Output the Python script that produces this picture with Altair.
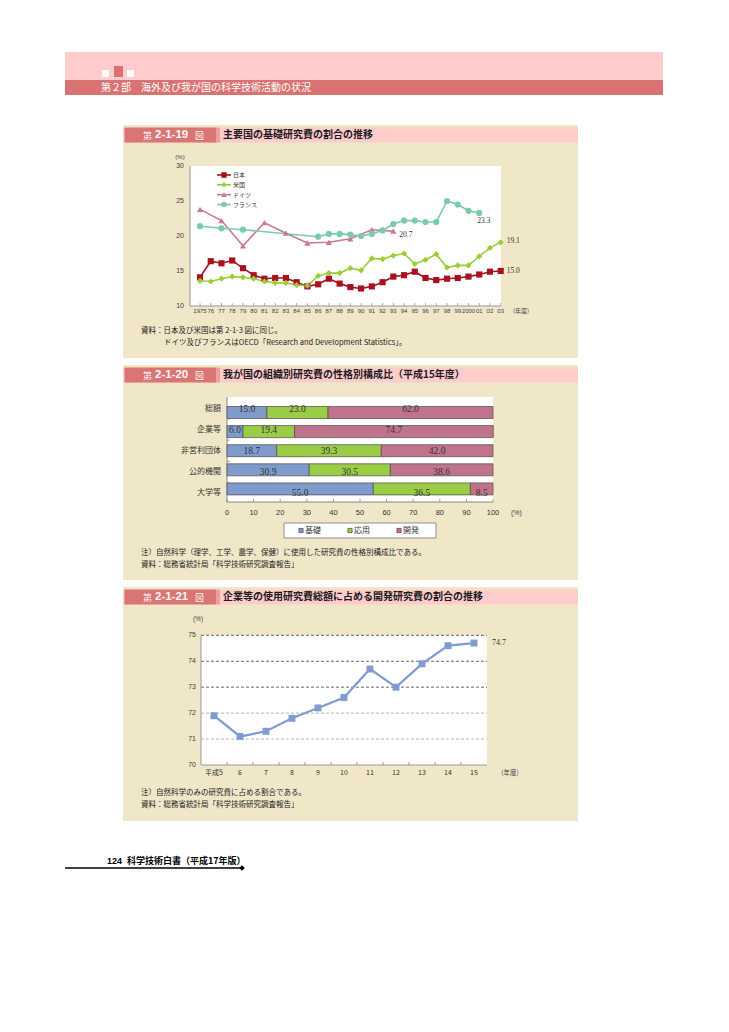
import altair as alt
import pandas as pd

JP = "Noto Sans CJK JP"
SANS = "Liberation Sans"
SERIF = "Liberation Serif"

# ---------------- page text ----------------
part_title = "第２部　海外及び我が国の科学技術活動の状況"
fig_nums = ["2-1-19", "2-1-20", "2-1-21"]
fig_titles = ["主要国の基礎研究費の割合の推移",
              "我が国の組織別研究費の性格別構成比（平成15年度）",
              "企業等の使用研究費総額に占める開発研究費の割合の推移"]

# ---------------- Figure 2-1-19 ----------------
years = list(range(1975, 2004))
year_labels = ["1975", "76", "77", "78", "79", "80", "81", "82", "83", "84", "85", "86", "87",
               "88", "89", "90", "91", "92", "93", "94", "95", "96", "97", "98", "99", "2000",
               "01", "02", "03"]
japan = [14.1, 16.4, 16.1, 16.5, 15.4, 14.4, 13.9, 14.0, 14.0, 13.4, 12.8, 13.1, 13.9, 13.2,
         12.7, 12.5, 12.8, 13.4, 14.2, 14.4, 14.9, 14.0, 13.7, 13.9, 14.0, 14.2, 14.5, 14.9, 15.0]
usa = [13.6, 13.5, 13.9, 14.2, 14.1, 13.9, 13.5, 13.3, 13.3, 13.0, 12.9, 14.3, 14.7, 14.7,
       15.4, 15.1, 16.8, 16.7, 17.2, 17.5, 16.0, 16.6, 17.4, 15.5, 15.8, 15.8, 17.1, 18.3, 19.1]
germany_years = [1975, 1977, 1979, 1981, 1983, 1985, 1987, 1989, 1991, 1993]
germany = [23.8, 22.2, 18.6, 21.9, 20.4, 19.0, 19.1, 19.6, 20.9, 20.7]
france_years = [1975, 1977, 1979, 1986, 1987, 1988, 1989, 1990, 1991, 1992, 1993, 1994, 1995,
                1996, 1997, 1998, 1999, 2000, 2001]
france = [21.4, 21.1, 20.9, 19.9, 20.3, 20.3, 20.2, 20.0, 20.3, 20.8, 21.7, 22.2, 22.2, 22.0,
          22.0, 25.0, 24.5, 23.6, 23.3]
countries = ["日本", "米国", "ドイツ", "フランス"]
y1_ticks = [10, 15, 20, 25, 30]
notes1 = ["資料：日本及び米国は第 2-1-3 図に同じ。",
          "ドイツ及びフランスはOECD「Research and Development Statistics」。"]

# ---------------- Figure 2-1-20 ----------------
orgs = ["総額", "企業等", "非営利団体", "公的機関", "大学等"]
types = ["基礎", "応用", "開発"]
basic = [15.0, 6.0, 18.7, 30.9, 55.0]
applied = [23.0, 19.4, 39.3, 30.5, 36.5]
develop = [62.0, 74.7, 42.0, 38.6, 8.5]
x2_ticks = [0, 10, 20, 30, 40, 50, 60, 70, 80, 90, 100]
notes2 = ["注）自然科学（理学、工学、農学、保健）に使用した研究費の性格別構成比である。",
          "資料：総務省統計局「科学技術研究調査報告」"]

# ---------------- Figure 2-1-21 ----------------
h_labels = ["平成5", "6", "7", "8", "9", "10", "11", "12", "13", "14", "15"]
dev_share = [71.9, 71.1, 71.3, 71.8, 72.2, 72.6, 73.7, 73.0, 73.9, 74.6, 74.7]
y3_ticks = [70, 71, 72, 73, 74, 75]
notes3 = ["注）自然科学のみの研究費に占める割合である。",
          "資料：総務省統計局「科学技術研究調査報告」"]

# ---------------- helpers ----------------
ONE = alt.Data(values=[{}])


def box(x, x2, y, y2, fill, stroke=None, sw=0.0):
    kw = dict(fill=fill)
    if stroke:
        kw.update(stroke=stroke, strokeWidth=sw)
    return alt.Chart(ONE).mark_rect(**kw).encode(
        x=alt.value(x), x2=alt.value(x2), y=alt.value(y), y2=alt.value(y2))


def hline(x, x2, y, color="#888", sw=1.0, dash=None):
    kw = dict(color=color, strokeWidth=sw)
    if dash:
        kw["strokeDash"] = dash
    return alt.Chart(ONE).mark_rule(**kw).encode(
        x=alt.value(x), x2=alt.value(x2), y=alt.value(y), y2=alt.value(y))


def vline(x, y, y2, color="#888", sw=1.0):
    return alt.Chart(ONE).mark_rule(color=color, strokeWidth=sw).encode(
        x=alt.value(x), x2=alt.value(x), y=alt.value(y), y2=alt.value(y2))


def txt(x, y, s, size=8.0, color="#333", font=JP, weight="normal", align="left"):
    return alt.Chart(ONE).mark_text(text=s, fontSize=size, color=color, font=font,
                                    fontWeight=weight, align=align, baseline="middle").encode(
        x=alt.value(x), y=alt.value(y))


layers = []

# ---------------- page header ----------------
layers += [
    box(65, 663, 52, 80, "#FFCCCC"),
    box(65, 663, 80, 95, "#D97373"),
    box(102, 109, 70, 77, "#FFFFFF"),
    box(114, 123, 66, 77, "#D97373"),
    box(127, 134, 70, 77, "#FFFFFF"),
    txt(101, 88, part_title, 10, "#FFFFFF"),
]

# ---------------- panels ----------------
panels = [(125, 358), (365, 580), (587, 821)]
for (top, bot), num, title in zip(panels, fig_nums, fig_titles):
    layers += [
        box(123, 578, top, bot, "#F0E6C8"),
        box(123, 578, top + 2.5, top + 17.5, "#FFCCCC"),
        box(124.5, 216, top + 2.5, top + 17.5, "#D97575"),
        box(216, 220, top + 2.5, top + 17.5, "#EBA0A0"),
        txt(143, top + 10.5, "第", 9, "#FFF0F0"),
        txt(155, top + 10, num, 11.5, "#FFF5F5", SANS, "bold"),
        txt(195, top + 10.5, "図", 9, "#FFF0F0"),
        txt(223, top + 10, title, 10, "#1a1a1a", JP, "bold"),
    ]

# ================= Figure 2-1-19 =================
rows = []
for c, xs, vs in zip(countries, [years, years, germany_years, france_years],
                     [japan, usa, germany, france]):
    for yr, v in zip(xs, vs):
        rows.append({"c": c, "year": yr, "v": v})
df1 = pd.DataFrame(rows)

X1 = alt.Scale(domain=[1975, 2003], range=[200, 500.7], nice=False, zero=False)
Y1 = alt.Scale(domain=[10, 30], range=[306, 166], nice=False, zero=False)
C1 = alt.Scale(domain=countries, range=["#A8121F", "#9CCD34", "#CC7892", "#7ACBAE"])
S1 = alt.Scale(domain=countries, range=["square", "diamond", "triangle-up", "circle"])

layers += [
    box(190, 501, 166, 306, "#FFFFFF"),
    vline(190, 166, 306, "#999", 1),
    hline(190, 501, 306, "#999", 1),
    txt(180, 157, "(%)", 6, "#444", SANS, align="center"),
    txt(513, 311, "(年度)", 6, "#444"),
]
yt1 = pd.DataFrame({"t": y1_ticks})
layers.append(alt.Chart(yt1).mark_text(align="right", baseline="middle", fontSize=7, font=SANS,
                                       color="#444").encode(
    x=alt.value(184), y=alt.Y("t:Q", scale=Y1, axis=None), text="t:Q"))
xt1 = pd.DataFrame({"year": years, "lab": year_labels})
layers.append(alt.Chart(xt1).mark_rule(color="#999", strokeWidth=0.8).encode(
    x=alt.X("year:Q", scale=X1, axis=None), y=alt.value(303), y2=alt.value(306)))
layers.append(alt.Chart(xt1).mark_text(baseline="middle", fontSize=6, font=SANS,
                                       color="#444").encode(
    x=alt.X("year:Q", scale=X1, axis=None), y=alt.value(311), text="lab:N"))

layers.append(alt.Chart(df1).mark_line(strokeWidth=1.6).encode(
    x=alt.X("year:Q", scale=X1, axis=None),
    y=alt.Y("v:Q", scale=Y1, axis=None),
    color=alt.Color("c:N", scale=C1, legend=None)))
layers.append(alt.Chart(df1).mark_point(filled=True, opacity=1, size=38).encode(
    x=alt.X("year:Q", scale=X1, axis=None),
    y=alt.Y("v:Q", scale=Y1, axis=None),
    color=alt.Color("c:N", scale=C1, legend=None),
    shape=alt.Shape("c:N", scale=S1, legend=None)))

# in-plot legend
dfl = pd.DataFrame({"c": countries})
YL = alt.Scale(type="point", domain=countries, range=[175, 204.5], padding=0)
layers.append(alt.Chart(dfl).mark_rule(strokeWidth=1.6).encode(
    x=alt.value(217), x2=alt.value(231), y=alt.Y("c:N", scale=YL, axis=None),
    color=alt.Color("c:N", scale=C1, legend=None)))
layers.append(alt.Chart(dfl).mark_point(filled=True, opacity=1, size=30).encode(
    x=alt.value(224), y=alt.Y("c:N", scale=YL, axis=None),
    color=alt.Color("c:N", scale=C1, legend=None),
    shape=alt.Shape("c:N", scale=S1, legend=None)))
layers.append(alt.Chart(dfl).mark_text(align="left", baseline="middle", fontSize=6, font=JP,
                                       color="#333").encode(
    x=alt.value(233), y=alt.Y("c:N", scale=YL, axis=None), text="c:N"))

# end-value labels
def end_label(yr, v, dx, dy):
    d = pd.DataFrame({"year": [yr], "v": [v]})
    return alt.Chart(d).mark_text(align="left", baseline="middle", dx=dx, dy=dy, fontSize=7.5,
                                  font=SERIF, color="#333").encode(
        x=alt.X("year:Q", scale=X1, axis=None), y=alt.Y("v:Q", scale=Y1, axis=None),
        text=alt.Text("v:Q", format=".1f"))


layers += [
    end_label(france_years[-1], france[-1], -2, 8),
    end_label(germany_years[-1], germany[-1], 6, 3.5),
    end_label(years[-1], usa[-1], 6, -1),
    end_label(years[-1], japan[-1], 6, 0),
    txt(141, 331, notes1[0], 7.5, "#222"),
    txt(164, 343, notes1[1], 7.5, "#222"),
]

# ================= Figure 2-1-20 =================
rows = []
for i, o in enumerate(orgs):
    for k, (t, vals) in enumerate(zip(types, [basic, applied, develop])):
        rows.append({"org": o, "row": i, "type": t, "ord": k, "v": vals[i]})
df2 = pd.DataFrame(rows)

X2 = alt.Scale(domain=[0, 100], range=[227, 493], nice=False, zero=False)
Y2 = alt.Scale(domain=[-0.5, 4.5], range=[397.95, 503.45], nice=False, zero=False)
C2 = alt.Scale(domain=types, range=["#7F9BCB", "#9ACC46", "#C0748C"])

layers += [
    box(227, 493, 397, 502, "#FFFFFF"),
    vline(227, 397, 502, "#888", 1),
    hline(227, 493, 502, "#888", 1),
    txt(511, 513, "(%)", 7, "#444", SANS),
]
base2 = alt.Chart(df2).transform_stack(
    stack="v", groupby=["org"], sort=[alt.SortField("ord", order="ascending")], as_=["x0", "x1"]
).transform_calculate(mid="(datum.x0 + datum.x1) / 2")
layers.append(base2.mark_bar(orient="horizontal", size=12, stroke="#4a4a4a",
                             strokeWidth=0.7).encode(
    x=alt.X("x0:Q", scale=X2, axis=None), x2="x1:Q",
    y=alt.Y("row:Q", scale=Y2, axis=None),
    color=alt.Color("type:N", scale=C2, legend=None)))
layers.append(base2.mark_text(baseline="middle", fontSize=9.5, font=SERIF,
                              color="#333").encode(
    x=alt.X("mid:Q", scale=X2, axis=None), y=alt.Y("row:Q", scale=Y2, axis=None),
    text=alt.Text("v:Q", format=".1f")))

dfo = pd.DataFrame({"org": orgs, "row": list(range(len(orgs)))})
layers.append(alt.Chart(dfo).mark_text(align="right", baseline="middle", fontSize=8, font=JP,
                                       color="#333").encode(
    x=alt.value(221), y=alt.Y("row:Q", scale=Y2, axis=None), text="org:N"))
layers.append(alt.Chart(dfo).transform_filter("datum.row > 0").transform_calculate(
    b="datum.row - 0.5").mark_rule(color="#888", strokeWidth=0.8).encode(
    x=alt.value(227), x2=alt.value(230), y=alt.Y("b:Q", scale=Y2, axis=None)))

xt2 = pd.DataFrame({"t": x2_ticks})
layers.append(alt.Chart(xt2).mark_rule(color="#888", strokeWidth=0.8).encode(
    x=alt.X("t:Q", scale=X2, axis=None), y=alt.value(499), y2=alt.value(502)))
layers.append(alt.Chart(xt2).mark_text(baseline="middle", fontSize=7.5, font=SANS,
                                       color="#333").encode(
    x=alt.X("t:Q", scale=X2, axis=None), y=alt.value(513), text="t:Q"))

# legend
layers.append(box(284, 436, 523, 538, "#FFFFFF", "#777", 0.8))
dft = pd.DataFrame({"type": types})
XL = alt.Scale(type="point", domain=types, range=[301, 399], padding=0)
layers.append(alt.Chart(dft).mark_square(size=18, opacity=1, stroke="#333",
                                         strokeWidth=0.6).encode(
    x=alt.X("type:N", scale=XL, axis=None), y=alt.value(530.5),
    color=alt.Color("type:N", scale=C2, legend=None)))
layers.append(alt.Chart(dft).mark_text(align="left", baseline="middle", dx=4, fontSize=8,
                                       font=JP, color="#333").encode(
    x=alt.X("type:N", scale=XL, axis=None), y=alt.value(530.5), text="type:N"))
layers += [
    txt(141, 553, notes2[0], 7.5, "#222"),
    txt(141, 565, notes2[1], 7.5, "#222"),
]

# ================= Figure 2-1-21 =================
df3 = pd.DataFrame({"lab": h_labels, "v": dev_share, "idx": list(range(len(h_labels)))})
X3 = alt.Scale(domain=[-0.5, 10.5], range=[201, 487], nice=False, zero=False)
Y3 = alt.Scale(domain=[70, 75], range=[765, 635.3], nice=False, zero=False)

layers += [
    box(201, 487, 635.3, 765, "#FFFFFF"),
    txt(198, 619, "(%)", 6.5, "#444", SANS, align="center"),
    txt(510, 773, "(年度)", 6.5, "#444", JP, align="center"),
]
yt3 = pd.DataFrame({"g": y3_ticks})
layers.append(alt.Chart(yt3).transform_filter("datum.g > 70").mark_rule(
    strokeWidth=0.9, strokeDash=[3, 2]).encode(
    x=alt.value(201), x2=alt.value(487), y=alt.Y("g:Q", scale=Y3, axis=None),
    color=alt.condition("datum.g >= 73", alt.value("#555555"), alt.value("#AAAAAA"))))
layers += [
    vline(201, 635.3, 765, "#999", 1),
    hline(201, 487, 765, "#999", 1),
]
layers.append(alt.Chart(yt3).mark_text(align="right", baseline="middle", fontSize=7,
                                       font=SANS, color="#444").encode(
    x=alt.value(196), y=alt.Y("g:Q", scale=Y3, axis=None), text="g:Q"))
layers.append(alt.Chart(df3).transform_filter("datum.idx < 10").transform_calculate(
    b="datum.idx + 0.5").mark_rule(color="#888", strokeWidth=0.8).encode(
    x=alt.X("b:Q", scale=X3, axis=None), y=alt.value(762), y2=alt.value(765)))
layers.append(alt.Chart(df3).mark_text(baseline="middle", fontSize=7, font=JP,
                                       color="#333").encode(
    x=alt.X("idx:Q", scale=X3, axis=None), y=alt.value(773), text="lab:N"))
layers.append(alt.Chart(df3).mark_line(color="#7F9BCF", strokeWidth=2.2).encode(
    x=alt.X("idx:Q", scale=X3, axis=None), y=alt.Y("v:Q", scale=Y3, axis=None)))
layers.append(alt.Chart(df3).mark_square(color="#7F9BCF", opacity=1, size=48).encode(
    x=alt.X("idx:Q", scale=X3, axis=None), y=alt.Y("v:Q", scale=Y3, axis=None)))
layers.append(alt.Chart(df3).transform_filter("datum.idx == 10").mark_text(
    align="left", baseline="middle", dx=18, fontSize=8, font=SERIF, color="#333").encode(
    x=alt.X("idx:Q", scale=X3, axis=None), y=alt.Y("v:Q", scale=Y3, axis=None),
    text=alt.Text("v:Q", format=".1f")))
layers += [
    txt(141, 793, notes3[0], 7.5, "#222"),
    txt(141, 805, notes3[1], 7.5, "#222"),
]

# ---------------- footer ----------------
layers += [
    txt(107, 861, "124", 9, "#000", SANS, "bold"),
    txt(127, 861, "科学技術白書（平成17年版）", 9, "#000", JP, "bold"),
    hline(65, 241, 868, "#000", 1.6),
    alt.Chart(ONE).mark_point(shape="diamond", filled=True, color="#000", size=30,
                              opacity=1).encode(x=alt.value(242), y=alt.value(868)),
]

chart = alt.layer(*layers).resolve_scale(
    x="independent", y="independent", color="independent", shape="independent"
).properties(
    width=720, height=1020, padding=0, background="white",
    autosize=alt.AutoSizeParams(type="none"),
).configure_view(strokeWidth=0)

chart.save("out.html", embed_options={"renderer": "svg", "actions": False})
